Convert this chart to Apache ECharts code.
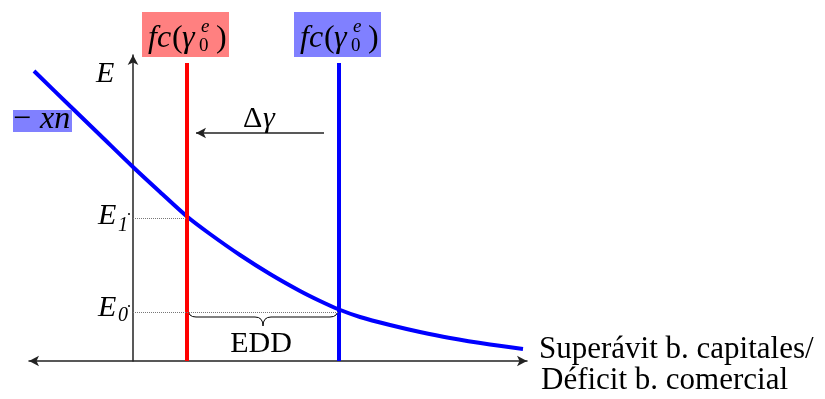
<!DOCTYPE html>
<html>
<head>
<meta charset="utf-8">
<script src="https://cdn.jsdelivr.net/npm/echarts@6/dist/echarts.min.js"></script>
<style>
  html, body { margin: 0; padding: 0; background: #fff; }
  #main { width: 825px; height: 399px; }
</style>
</head>
<body>
<div id="main"></div>
<script>
// -xn curve (x: capital surplus, y: exchange rate E)
const curveX = [-9.9, -6.3, -3.3, 0, 2.7, 5.4, 7.7, 10.7, 13.7, 16.7, 18.7, 20.6, 22.7, 25.7, 28.7, 31.7, 35.7, 39.0];
const curveY = [29.0, 25.5, 22.6, 19.4, 16.9, 14.45, 12.7, 10.6, 8.7, 7.0, 6.0, 5.15, 4.4, 3.6, 2.9, 2.3, 1.65, 1.2];

// fc(gamma) verticals: new (red) and old (blue)
const fcNew = 5.4;
const fcOld = 20.6;
const fcTop = 29.8;

// equilibrium exchange rates
const E0 = 4.9;
const E1 = 14.3;

// delta gamma arrow (from, to, level)
const shiftFrom = 19.1;
const shiftTo = 6.3;
const shiftLevel = 22.8;

const SERIF = '"Liberation Serif", "Times New Roman", serif';

const chart = echarts.init(document.getElementById('main'));

const brace = (params, api) => {
  const a = api.coord([api.value(0), api.value(2)]);
  const b = api.coord([api.value(1), api.value(2)]);
  const y = a[1];
  const mid = (a[0] + b[0]) / 2;
  const d = [
    'M', a[0] + 1, y - 3,
    'Q', a[0] + 1, y + 5, a[0] + 9, y + 5,
    'L', mid - 8, y + 5,
    'Q', mid, y + 5, mid, y + 14,
    'Q', mid, y + 5, mid + 8, y + 5,
    'L', b[0] - 9, y + 5,
    'Q', b[0] - 1, y + 5, b[0] - 1, y - 3
  ].join(' ');
  return {
    type: 'path',
    shape: { pathData: d },
    style: { stroke: '#000', fill: null, lineWidth: 1 }
  };
};

chart.setOption({
  animation: false,
  grid: { left: 29, right: 298, top: 55, bottom: 38 },
  xAxis: {
    type: 'value', min: -10.4, max: 39.4,
    axisLine: {
      onZero: true,
      symbol: ['arrow', 'arrow'], symbolSize: [8, 10],
      lineStyle: { color: '#222', width: 1.5 }
    },
    axisTick: { show: false }, axisLabel: { show: false }, splitLine: { show: false }
  },
  yAxis: {
    type: 'value', min: 0, max: 30.6,
    axisLine: {
      onZero: true,
      symbol: ['none', 'arrow'], symbolSize: [8, 10],
      lineStyle: { color: '#222', width: 1.5 }
    },
    axisTick: { show: false }, axisLabel: { show: false }, splitLine: { show: false }
  },
  series: [
    {
      // dotted guides and the delta-gamma arrow
      type: 'line', data: [], silent: true,
      markLine: {
        silent: true, animation: false,
        label: { show: false },
        symbol: 'none',
        lineStyle: { color: '#777', width: 1, type: 'dotted' },
        data: [
          [{ coord: [0, E1] }, { coord: [fcNew, E1] }],
          [{ coord: [0, E0] }, { coord: [fcOld, E0] }],
          [
            { coord: [shiftFrom, shiftLevel], symbol: 'none',
              lineStyle: { color: '#222', width: 1.5, type: 'solid' } },
            { coord: [shiftTo, shiftLevel], symbol: 'arrow', symbolSize: [8, 10] }
          ]
        ]
      }
    },
    {
      type: 'line', smooth: 0.3, symbol: 'none', clip: false,
      data: curveX.map((x, i) => [x, curveY[i]]),
      lineStyle: { color: '#0000ff', width: 4 }
    },
    {
      type: 'line', symbol: 'none',
      data: [[fcNew, 0], [fcNew, fcTop]],
      lineStyle: { color: '#ff0000', width: 4 }
    },
    {
      type: 'line', symbol: 'none',
      data: [[fcOld, 0], [fcOld, fcTop]],
      lineStyle: { color: '#0000ff', width: 4 }
    },
    {
      type: 'custom', renderItem: brace, silent: true,
      data: [[fcNew, fcOld, E0]]
    }
  ]
});

// text placed by baseline
const txt = (text, x, base, size, italic, align) => ({
  type: 'text', silent: true, z: 10,
  style: {
    text: text, x: x, y: base - 0.3 * size,
    font: (italic ? 'italic ' : '') + size + 'px ' + SERIF,
    fill: '#000', textAlign: align || 'left', verticalAlign: 'middle'
  }
});

const px = (x, y) => chart.convertToPixel({ gridIndex: 0 }, [x, y]);

const fcLabel = (lx, color) => {
  const L = lx - 45;
  return [
    { type: 'rect', silent: true, z: 9, shape: { x: L, y: 12, width: 87, height: 45 }, style: { fill: color } },
    txt('fc', L + 6, 48, 32, true),
    txt('(', L + 30, 48, 32, false),
    txt('γ', L + 40, 48, 32, true),
    txt('e', L + 59, 33, 19, true),
    txt('0', L + 57, 52, 19, false),
    txt(')', L + 74, 48, 32, false)
  ];
};

const pNew = px(fcNew, 0);
const pOld = px(fcOld, 0);
const pE1 = px(0, E1);
const pE0 = px(0, E0);
const pShift = px(0, shiftLevel);

const g = [].concat(
  fcLabel(pNew[0], '#ff8080'),
  fcLabel(pOld[0], '#8080ff'),
  [
    { type: 'rect', silent: true, z: 9, shape: { x: 13, y: 110, width: 59, height: 22 }, style: { fill: '#8080ff' } },
    txt('−', 13, 129, 32, false),
    txt('xn', 40, 129, 32, true),
    txt('E', 96, 83, 30, true),
    txt('E', 98, pE1[1] + 7, 30, true),
    txt('1', 118, pE1[1] + 14, 20, true),
    { type: 'circle', silent: true, shape: { cx: 129, cy: pE1[1] - 4, r: 1 }, style: { fill: '#000' } },
    txt('E', 98, pE0[1] + 5, 30, true),
    txt('0', 118, pE0[1] + 10, 20, true),
    { type: 'circle', silent: true, shape: { cx: 129, cy: pE0[1] - 6, r: 1 }, style: { fill: '#000' } },
    txt('Δ', 243, pShift[1] - 5, 30, false),
    txt('γ', 263, pShift[1] - 5, 30, true),
    txt('EDD', (pNew[0] + pOld[0]) / 2 - 2, 353, 30, false, 'center'),
    txt('Superávit b. capitales/', 539, 359, 31, false),
    txt('Déficit b. comercial', 541, 390, 31, false)
  ]
);

chart.setOption({ graphic: g });
</script>
</body>
</html>
